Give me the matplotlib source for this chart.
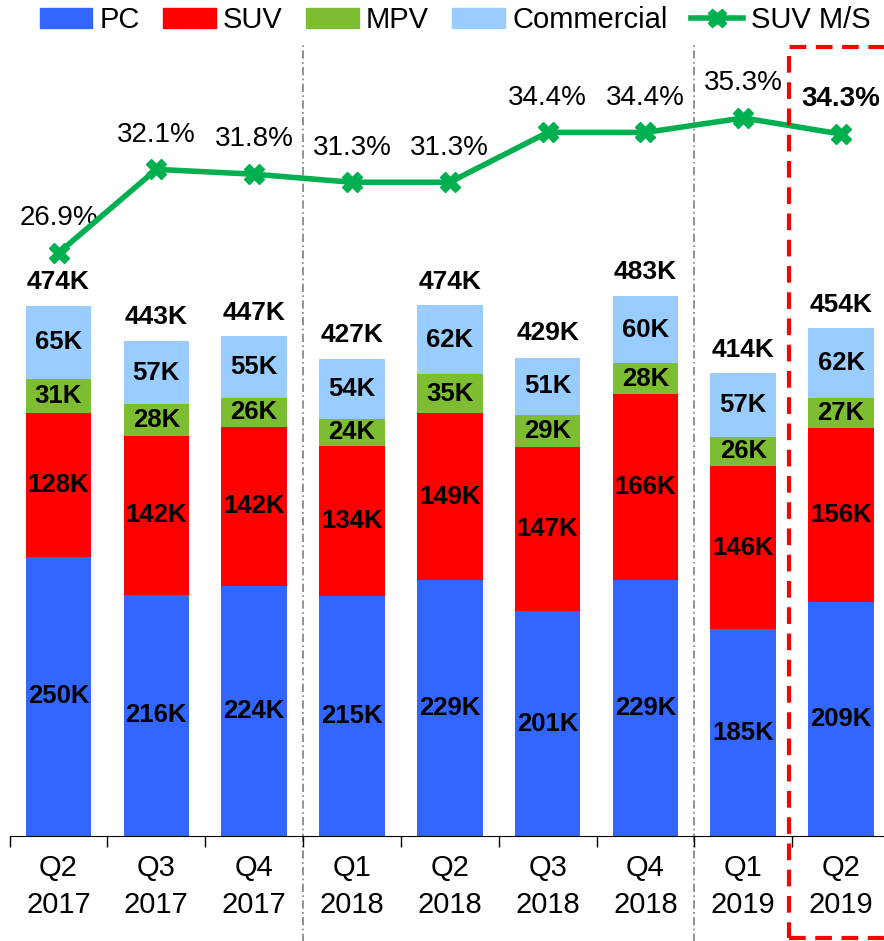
import matplotlib
matplotlib.use("Agg")
import matplotlib.pyplot as plt
from matplotlib.patches import Patch, Rectangle
from matplotlib.lines import Line2D
import numpy as np

plt.rcParams["font.family"] = ["Liberation Sans", "DejaVu Sans"]

# Data
quarters = ["Q2\n2017", "Q3\n2017", "Q4\n2017", "Q1\n2018", "Q2\n2018",
            "Q3\n2018", "Q4\n2018", "Q1\n2019", "Q2\n2019"]
pc = [250, 216, 224, 215, 229, 201, 229, 185, 209]
suv = [128, 142, 142, 134, 149, 147, 166, 146, 156]
mpv = [31, 28, 26, 24, 35, 29, 28, 26, 27]
commercial = [65, 57, 55, 54, 62, 51, 60, 57, 62]
totals = [474, 443, 447, 427, 474, 429, 483, 414, 454]
suv_share = [26.9, 32.1, 31.8, 31.3, 31.3, 34.4, 34.4, 35.3, 34.3]

c_pc = "#3366FF"
c_suv = "#FF0000"
c_mpv = "#7DBD32"
c_com = "#99CCFF"
c_line = "#00B050"

W, H = 884, 941
fig = plt.figure(figsize=(W / 100, H / 100), dpi=100)
ax_left, ax_right = 9.6, 890
ax_bot, ax_top = 836, 40
ax = fig.add_axes([ax_left / W, (H - ax_bot) / H,
                   (ax_right - ax_left) / W, (ax_bot - ax_top) / H])

x = np.arange(len(quarters))
bw = 0.67
series = [(pc, c_pc), (suv, c_suv), (mpv, c_mpv), (commercial, c_com)]
bottom = np.zeros(len(x))
for vals, col in series:
    vals = np.array(vals)
    ax.bar(x, vals, bw, bottom=bottom, color=col, zorder=2)
    for xi, b, v in zip(x, bottom, vals):
        ax.text(xi, b + v / 2, f"{v}K", ha="center", va="center",
                fontsize=18.5, fontweight="bold", color="black", zorder=3)
    bottom = bottom + vals

for xi, t in zip(x, totals):
    ax.annotate(f"{t}K", (xi, t), xytext=(0, 17), textcoords="offset points",
                ha="center", va="center", fontsize=19, fontweight="bold")

ax.set_xlim(-0.5, 8.5)
ax.set_ylim(0, 712)
ax.set_yticks([])
for s in ["top", "right", "left"]:
    ax.spines[s].set_visible(False)
ax.spines["bottom"].set_color("black")
ax.set_xticks(x)
ax.set_xticklabels(quarters, fontsize=21, linespacing=1.4)
ax.tick_params(axis="x", which="major", length=0, pad=13)
ax.set_xticks(np.arange(-0.5, 8.6, 1), minor=True)
ax.tick_params(axis="x", which="minor", length=8, width=1, color="black")

# Year separators
for xs in [2.5, 6.5]:
    ax.axvline(xs, ymin=-0.135, ymax=0.994, color="gray", lw=1.2,
               linestyle=(0, (5, 2, 1, 2)), clip_on=False, zorder=1)

# SUV market share line
ax2 = ax.twinx()
ax2.set_ylim(-9.38, 40.15)
ax2.plot(x, suv_share, color=c_line, lw=4, marker="X", markersize=15,
         markeredgecolor=c_line, zorder=4)
ax2.set_yticks([])
for s in ["top", "right", "left", "bottom"]:
    ax2.spines[s].set_visible(False)
for i, (xi, v) in enumerate(zip(x, suv_share)):
    bold = i == len(x) - 1
    ax2.annotate(f"{v}%", (xi, v), xytext=(0, 25), textcoords="offset points",
                 ha="center", va="center", fontsize=20,
                 fontweight="bold" if bold else "normal")

# Highlight box
fig.patches.append(Rectangle((789 / W, 3 / H), 0.2, (938 - 47) / H,
                             transform=fig.transFigure, fill=False,
                             edgecolor="#FF0000", lw=3,
                             linestyle=(0, (4, 2.3)), zorder=10))

handles = [Patch(color=c_pc), Patch(color=c_suv), Patch(color=c_mpv),
           Patch(color=c_com),
           Line2D([], [], color=c_line, lw=4, marker="X", markersize=13)]
labels = ["PC", "SUV", "MPV", "Commercial", "SUV M/S"]
fig.legend(handles, labels, loc="center", bbox_to_anchor=(455 / W, 1 - 20 / H),
           ncol=5, frameon=False, fontsize=21, handlelength=1.8,
           handletextpad=0.25, columnspacing=0.8, borderaxespad=0)

fig.savefig("out.png", dpi=100)
